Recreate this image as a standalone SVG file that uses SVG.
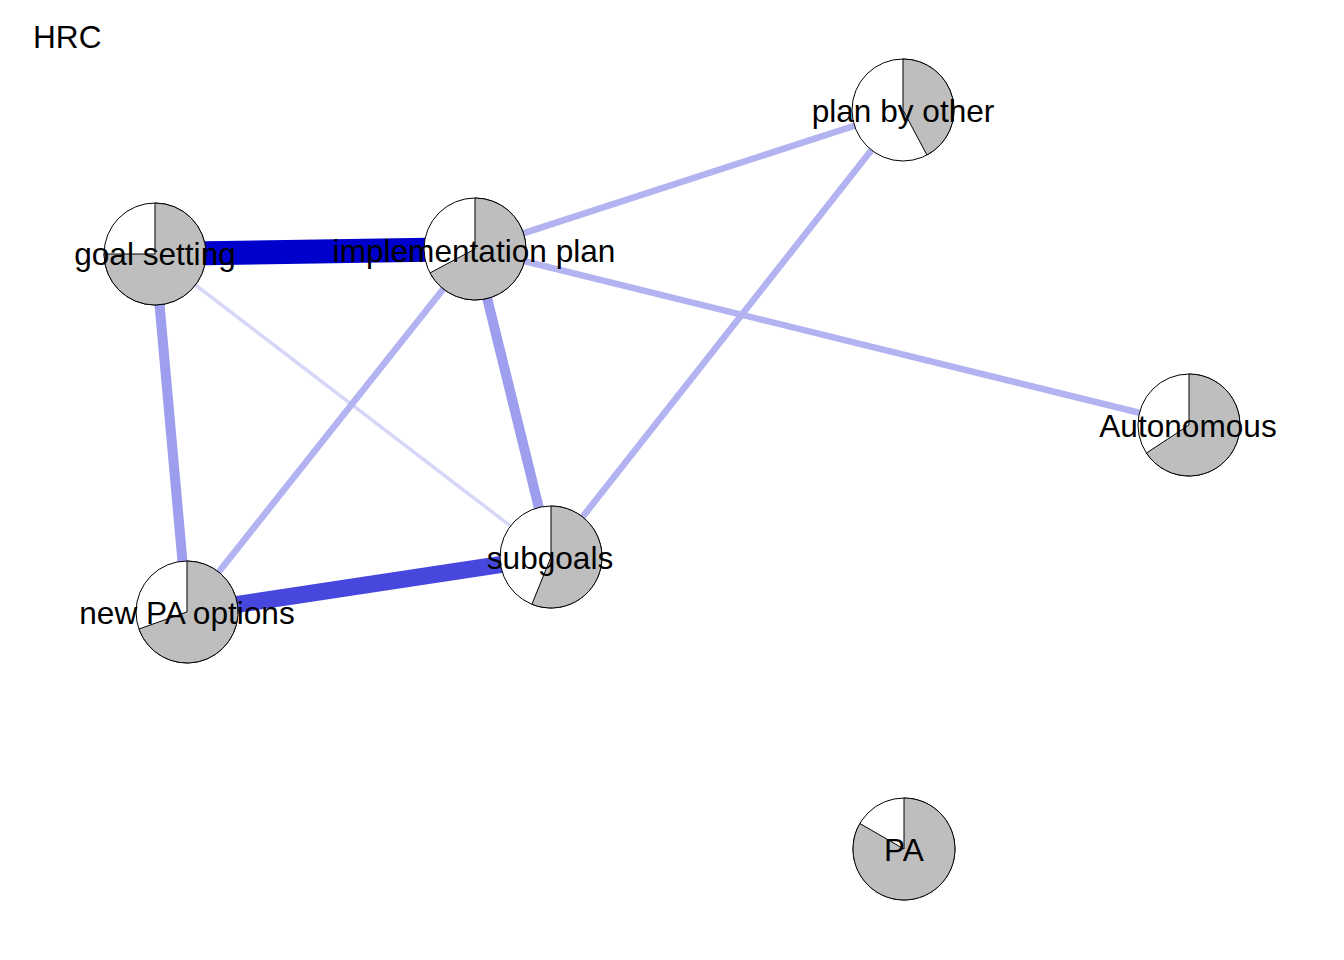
<svg xmlns="http://www.w3.org/2000/svg" width="1344" height="960" viewBox="0 0 1344 960">
<style>
text{font-family:"Liberation Sans",Arial,sans-serif;font-size:31.6px;fill:#000;text-anchor:middle}
.bg{fill:#fff;stroke:#000;stroke-width:1}
.pie{fill:#bebebe;stroke:#000;stroke-width:1}
.e{fill:none;stroke-linecap:butt}
.w1{stroke:#d6d6f8;stroke-width:3.5}
.w2{stroke:#b3b3f2;stroke-width:6.5}
.w3{stroke:#9e9eee;stroke-width:10}
.w4{stroke:#4747de;stroke-width:17}
.w5{stroke:#0000cd;stroke-width:24}
</style>
<rect width="1344" height="960" fill="#fff"/>
<text x="33" y="48" style="text-anchor:start">HRC</text>
<g id="connectors">
<line class="e w1" x1="155" y1="254" x2="551" y2="557"/>
<line class="e w2" x1="475" y1="249" x2="903" y2="110"/>
<line class="e w2" x1="475" y1="249" x2="1189" y2="425"/>
<line class="e w2" x1="903" y1="110" x2="551" y2="557"/>
<line class="e w2" x1="475" y1="249" x2="187" y2="612"/>
<line class="e w3" x1="155" y1="254" x2="187" y2="612"/>
<line class="e w3" x1="475" y1="249" x2="551" y2="557"/>
<line class="e w4" x1="187" y1="612" x2="551" y2="557"/>
<line class="e w5" x1="155" y1="254" x2="475" y2="249"/>
</g>
<g id="goal-setting">
<circle class="bg" cx="155" cy="254" r="51"/>
<path class="pie" d="M155,254 L155,203 A51,51 0 1 1 104,254 Z"/>
<text x="155" y="265">goal setting</text>
</g>
<g id="implementation-plan">
<circle class="bg" cx="475" cy="249" r="51"/>
<path class="pie" d="M475,249 L475,198 A51,51 0 1 1 429.97,272.94 Z"/>
<text x="474" y="262">implementation plan</text>
</g>
<g id="plan-by-other">
<circle class="bg" cx="903" cy="110" r="51"/>
<path class="pie" d="M903,110 L903,59 A51,51 0 0 1 926.94,155.03 Z"/>
<text x="903" y="122">plan by other</text>
</g>
<g id="autonomous">
<circle class="bg" cx="1189" cy="425" r="51"/>
<path class="pie" d="M1189,425 L1189,374 A51,51 0 1 1 1146.43,453.08 Z"/>
<text x="1188" y="437">Autonomous</text>
</g>
<g id="subgoals">
<circle class="bg" cx="551" cy="557" r="51"/>
<path class="pie" d="M551,557 L551,506 A51,51 0 1 1 531.9,604.29 Z"/>
<text x="550" y="569">subgoals</text>
</g>
<g id="new-pa-options">
<circle class="bg" cx="187" cy="612" r="51"/>
<path class="pie" d="M187,612 L187,561 A51,51 0 1 1 138.93,629.02 Z"/>
<text x="187" y="624">new PA options</text>
</g>
<g id="pa">
<circle class="bg" cx="904" cy="849" r="51"/>
<path class="pie" d="M904,849 L904,798 A51,51 0 1 1 859.83,823.5 Z"/>
<text x="904" y="861">PA</text>
</g>
</svg>
